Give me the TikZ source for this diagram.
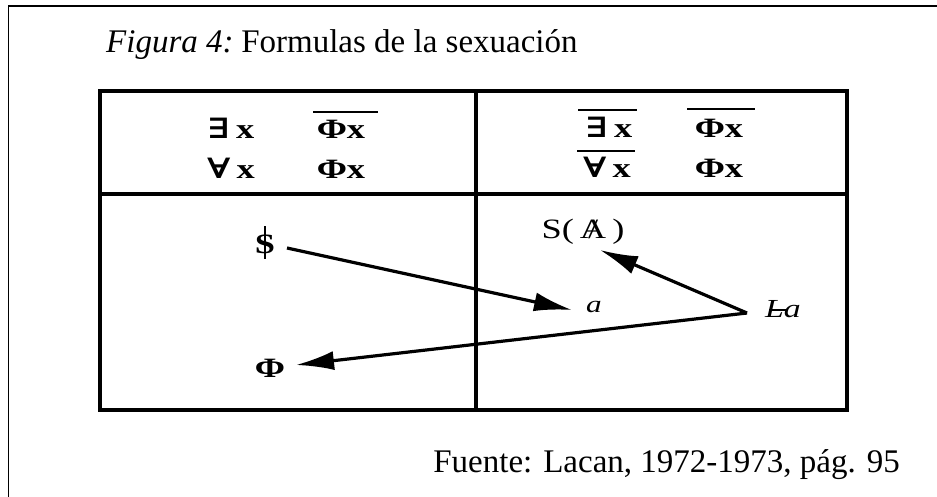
\documentclass[tikz,border=0pt]{standalone}
\usepackage{graphicx}
\usepackage{fontspec}
\setmainfont{Liberation Serif}
\newfontfamily\djv{DejaVu Serif}
\usetikzlibrary{arrows.meta}
\newcommand{\stretchx}[1]{\scalebox{1.3}[1]{#1}}
\newcommand{\barS}{\ooalign{S\cr\hidewidth\rule[-0.2em]{0.08em}{1.15em}\hidewidth}}
\newcommand{\barA}{\ooalign{A\cr\hidewidth/\hidewidth}}
\newcommand{\barLa}{\ooalign{\textit{La}\cr\kern0.12em\rule[0.22em]{0.55em}{0.07em}}}
\begin{document}
\begin{tikzpicture}[x=1pt,y=-1pt,
  frame/.style={line width=3.8pt, line cap=rect},
  lab/.style={inner sep=0pt, anchor=base, font=\fontsize{28}{32}\selectfont},
  fml/.style={lab, font=\fontsize{28}{32}\selectfont\bfseries},
  captxt/.style={inner sep=0pt, font=\fontsize{33}{38}\selectfont},
  arr/.style={line width=3.2pt, -{Latex[length=38pt,width=19pt]}},
  bar/.style={line width=2.6pt}]
\useasboundingbox (0,0) rectangle (937,497);
% page frame (only left and top visible)
\draw[line width=1.6pt] (8.5,497) -- (8.5,6) -- (937,6);
% captions
\node[captxt, anchor=base west] (title) at (106,53) {\textit{Figura 4:}\kern-0.1em{} Formulas de la sexuación};
\node[captxt, anchor=base east] (src) at (900,472) {Fuente: Lacan, 1972-1973, pág. 95};
% table
\draw[frame] (100,91) rectangle (847,410);
\draw[frame] (100,194) -- (847,194);
\draw[frame] (476,91) -- (476,410);
% formulas, left cell
\node[fml] (q1) at (231,139) {\stretchx{{\djv ∃}\,x}};
\node[fml] (p1) at (341,139) {\stretchx{Φx}};
\node[fml] (q2) at (231,179) {\stretchx{{\djv ∀}\,x}};
\node[fml] (p2) at (341,179) {\stretchx{Φx}};
% formulas, right cell
\node[fml] (q3) at (609,138) {\stretchx{{\djv ∃}\,x}};
\node[fml] (p3) at (719,138) {\stretchx{Φx}};
\node[fml] (q4) at (607,178) {\stretchx{{\djv ∀}\,x}};
\node[fml] (p4) at (719,178) {\stretchx{Φx}};
% overlines
\draw[bar] (313,112) -- (378,112);
\draw[bar] (578,110) -- (637,110);
\draw[bar] (687,109) -- (755,109);
\draw[bar] (577,151) -- (635,151);
% lower labels
\node[fml] (S) at (265,253) {\stretchx{\barS}};
\node[lab, font=\fontsize{24}{28}\selectfont] (a) at (594,312) {\stretchx{\textit{a}}};
\node[lab] (SA) at (583,238) {\stretchx{S(\,\barA\,)}};
\node[lab, font=\fontsize{26}{30}\selectfont] (La) at (783,317) {\stretchx{\barLa}};
\node[fml] (Phi) at (270,377) {\stretchx{Φ}};
% arrows
\coordinate (Lst) at ([shift={(-36,-4)}]La.base);
\draw[arr] ([shift={(22,-5)}]S.base) -- ([shift={(-22,-2)}]a.base);
\draw[arr] (Lst) -- ([shift={(17,12)}]SA.base);
\draw[arr] (Lst) -- ([shift={(26,-12)}]Phi.base);
\end{tikzpicture}
\end{document}
